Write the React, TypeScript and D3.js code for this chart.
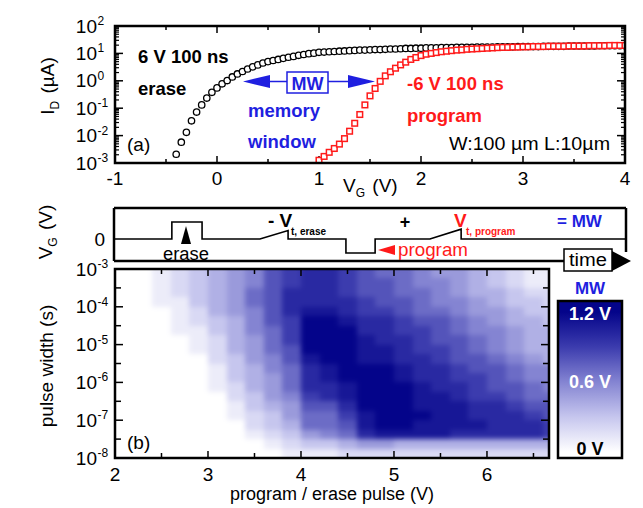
import React from 'react';
import * as d3 from 'd3';

const FONT = "'Liberation Sans', Arial, Helvetica, sans-serif";
const BLUE = '#1f1fe0';
const RED = '#ff1a1a';

// ---------- Panel (a): transfer curves ----------
const VG_STEP = 0.05;
const VG_START_ERASE = -0.4;
const LOG_ID_ERASE = [
  -2.68, -2.24, -1.88, -1.46, -1.14, -0.88, -0.63, -0.42, -0.26, -0.11,
  0.01, 0.14, 0.25, 0.34, 0.43, 0.51, 0.58, 0.65, 0.70, 0.74,
  0.78, 0.82, 0.86, 0.89, 0.93, 0.96, 0.99, 1.01, 1.04, 1.05,
  1.06, 1.07, 1.08, 1.09, 1.10, 1.11, 1.12, 1.12, 1.13, 1.14,
  1.14, 1.15, 1.16, 1.16, 1.17, 1.18, 1.18, 1.19, 1.19,
  1.20, 1.20, 1.20, 1.21, 1.21, 1.21, 1.22, 1.22, 1.22, 1.22,
  1.23, 1.23, 1.23, 1.23, 1.24, 1.24, 1.24, 1.24, 1.25, 1.25,
  1.25, 1.25, 1.25, 1.26, 1.26, 1.26, 1.26, 1.26, 1.27, 1.27,
  1.27, 1.27, 1.27, 1.27, 1.28, 1.28, 1.28, 1.28, 1.28, 1.28,
];
const VG_START_PROGRAM = 1.0;
const LOG_ID_PROGRAM = [
  -2.90, -2.76, -2.61, -2.47, -2.31, -2.11, -1.84, -1.55, -1.23, -0.88,
  -0.55, -0.28, -0.02, 0.18, 0.33, 0.46, 0.58, 0.68, 0.78, 0.85,
  0.92, 0.97, 1.00, 1.03, 1.06, 1.08, 1.10, 1.12, 1.13, 1.15,
  1.16, 1.17, 1.18, 1.19, 1.20, 1.21, 1.22, 1.22, 1.23, 1.23,
  1.24, 1.24, 1.25, 1.25, 1.25, 1.26, 1.26, 1.26, 1.26, 1.27,
  1.27, 1.27, 1.27, 1.28, 1.28, 1.28, 1.28, 1.29, 1.29, 1.29, 1.29,
];
const A_XTICKS = [-1, 0, 1, 2, 3, 4];
const A_XMINOR = [-0.5, 0.5, 1.5, 2.5, 3.5];
const A_YEXP = [2, 1, 0, -1, -2, -3];

// ---------- Schematic (gate voltage vs time) ----------
const WAVE_T = [0, 11.3, 11.3, 17.2, 17.2, 28.5, 34, 34, 45.3, 45.3, 51, 51, 61.7, 67.8, 67.8, 100];
const WAVE_LEVEL = [0, 0, 1, 1, 0, 0, 0.5, 0, 0, -0.82, -0.82, 0, 0, 0.58, 0, 0];

// ---------- Panel (b): memory window map ----------
const PULSE_V = [2.1, 2.3, 2.5, 2.7, 2.9, 3.1, 3.3, 3.5, 3.7, 3.9, 4.1, 4.3, 4.5, 4.7, 4.9, 5.1, 5.3, 5.5, 5.7, 5.9, 6.1, 6.3, 6.5, 6.7];
const LOG_PULSE_WIDTH = [-3.125, -3.375, -3.625, -3.875, -4.125, -4.375, -4.625, -4.875, -5.125, -5.375,
  -5.625, -5.875, -6.125, -6.375, -6.625, -6.875, -7.125, -7.375, -7.625, -7.875];
// memory window in units of 0.1 V (rows: top -> bottom, columns: PULSE_V)
const MW_DECIVOLT = [
  [0, 0, 1, 2, 3, 4, 5, 6, 8, 9, 10, 10, 9, 8, 7, 7, 6, 5, 5, 4, 3, 2, 1, 1],
  [0, 0, 1, 2, 3, 4, 5, 6, 8, 9, 10, 10, 9, 8, 8, 7, 6, 6, 5, 4, 3, 2, 1, 1],
  [0, 0, 1, 2, 3, 4, 5, 7, 8, 10, 10, 10, 9, 8, 8, 7, 7, 6, 5, 4, 4, 3, 2, 2],
  [0, 0, 1, 1, 3, 4, 5, 7, 8, 10, 10, 10, 10, 9, 8, 8, 7, 6, 6, 5, 4, 3, 3, 2],
  [0, 0, 0, 1, 2, 4, 5, 6, 8, 10, 11, 11, 10, 9, 9, 8, 7, 7, 6, 5, 5, 4, 3, 3],
  [0, 0, 0, 1, 2, 3, 4, 6, 8, 9, 12, 12, 11, 10, 10, 9, 8, 8, 7, 6, 5, 4, 4, 3],
  [0, 0, 0, 1, 1, 3, 4, 6, 7, 9, 12, 12, 12, 10, 10, 9, 9, 8, 7, 6, 6, 5, 4, 4],
  [0, 0, 0, 0, 1, 2, 4, 5, 7, 9, 12, 12, 12, 11, 10, 10, 9, 8, 8, 7, 6, 5, 4, 4],
  [0, 0, 0, 0, 1, 2, 4, 5, 7, 8, 12, 12, 12, 11, 11, 10, 9, 9, 8, 7, 6, 5, 4, 4],
  [0, 0, 0, 0, 0, 2, 3, 5, 6, 8, 11, 12, 12, 11, 11, 10, 10, 9, 8, 8, 7, 6, 5, 4],
  [0, 0, 0, 0, 0, 1, 3, 4, 6, 7, 10, 11, 12, 12, 12, 11, 10, 10, 9, 8, 8, 7, 6, 6],
  [0, 0, 0, 0, 0, 1, 3, 4, 5, 7, 10, 11, 12, 12, 12, 11, 10, 10, 9, 9, 8, 7, 6, 6],
  [0, 0, 0, 0, 0, 1, 2, 4, 5, 7, 10, 10, 11, 12, 12, 12, 11, 10, 10, 9, 8, 8, 7, 6],
  [0, 0, 0, 0, 0, 0, 2, 3, 5, 6, 9, 10, 11, 12, 12, 12, 11, 11, 10, 9, 9, 8, 7, 7],
  [0, 0, 0, 0, 0, 0, 1, 3, 4, 5, 8, 8, 10, 12, 12, 12, 11, 11, 11, 10, 10, 9, 8, 8],
  [0, 0, 0, 0, 0, 0, 1, 2, 3, 5, 7, 7, 9, 11, 12, 12, 12, 11, 11, 10, 10, 10, 9, 8],
  [0, 0, 0, 0, 0, 0, 0, 2, 3, 4, 7, 7, 8, 11, 12, 12, 11, 11, 11, 11, 10, 10, 10, 9],
  [0, 0, 0, 0, 0, 0, 0, 1, 2, 3, 5, 6, 7, 10, 11, 11, 11, 11, 10, 10, 10, 10, 10, 9],
  [0, 0, 0, 0, 0, 0, 0, 0, 1, 2, 3, 3, 4, 5, 5, 4, 4, 4, 4, 4, 4, 4, 4, 4],
  [0, 0, 0, 0, 0, 0, 0, 0, 0, 1, 1, 1, 2, 2, 2, 2, 2, 2, 2, 2, 2, 2, 2, 2],
];
const B_XTICKS = [2, 3, 4, 5, 6];
const B_XMINOR = [2.5, 3.5, 4.5, 5.5, 6.5];
const B_YEXP = [-3, -4, -5, -6, -7, -8];
const CBAR_LABELS = [
  { v: 1.2, text: '1.2 V', color: '#ffffff' },
  { v: 0.6, text: '0.6 V', color: '#ffffff' },
  { v: 0.0, text: '0 V', color: '#000000' },
];
const MW_COLOR_DOMAIN = [0, 0.3, 0.6, 0.9, 1.2];
const MW_COLOR_RANGE = ['#ffffff', '#c6c6ee', '#8484d2', '#3c3cae', '#04048a'];

const FRAME_W = 2.5;

function YLogLabel({ x, y, exp }: { x: number; y: number; exp: number }) {
  return (
    <g fontFamily={FONT}>
      <text x={x} y={y + 6.5} fontSize={19} textAnchor="end">10</text>
      <text x={x + 0.5} y={y - 1} fontSize={12}>{String(exp)}</text>
    </g>
  );
}

export default function App() {
  // ---- panel (a) scales ----
  const xA = d3.scaleLinear().domain([-1, 4]).range([115, 625]);
  const yA = d3.scaleLog().domain([1e-3, 1e2]).range([163, 26]);
  const eraseData = LOG_ID_ERASE.map((l, i) => ({ v: VG_START_ERASE + i * VG_STEP, i: Math.pow(10, l) }));
  const progData = LOG_ID_PROGRAM.map((l, i) => ({ v: VG_START_PROGRAM + i * VG_STEP, i: Math.pow(10, l) }));
  const aMinorY: number[] = [];
  for (let d = -3; d < 2; d++) for (let m = 2; m <= 9; m++) aMinorY.push(m * Math.pow(10, d));

  // ---- schematic scales ----
  const tS = d3.scaleLinear().domain([0, 100]).range([114, 626]);
  const lS = d3.scaleLinear().domain([0, 1]).range([239, 222]);
  const wave = d3.line<number>().x((_, i) => tS(WAVE_T[i])).y((d) => lS(d))(WAVE_LEVEL) || '';

  // ---- panel (b) scales ----
  const xB = d3.scaleLinear().domain([2, 6.667]).range([115, 549]);
  const yB = d3.scaleLog().domain([1e-8, 1e-3]).range([458, 269]);
  const color = d3.scaleLinear<string>().domain(MW_COLOR_DOMAIN).range(MW_COLOR_RANGE).clamp(true);
  const halfX = (PULSE_V[1] - PULSE_V[0]) / 2;
  const halfY = (LOG_PULSE_WIDTH[0] - LOG_PULSE_WIDTH[1]) / 2;
  const bMinorY: number[] = [];
  for (let d = -8; d < -3; d++) bMinorY.push(Math.pow(10, d + 0.5));

  // colorbar
  const cb = { x0: 558, x1: 622, y0: 301, y1: 458 };
  const cbScale = d3.scaleLinear().domain([0, 1.2]).range([452, 312]);
  const cbStops = d3.range(0, 13).map((k) => k / 10);

  const tickStroke = 1.5;

  return (
    <svg width={643} height={508} style={{ position: 'absolute', left: 0, top: 0, background: '#fff' }} fontFamily={FONT}>
      <defs>
        <clipPath id="clipA"><rect x={115} y={26} width={510} height={137} /></clipPath>
        <clipPath id="clipB"><rect x={115} y={269} width={434} height={189} /></clipPath>
        <filter id="soft" x="0" y="0" width="1" height="1" colorInterpolationFilters="sRGB">
          <feGaussianBlur stdDeviation={2.6} />
          <feComponentTransfer>
            <feFuncA type="table" tableValues="1 1" />
          </feComponentTransfer>
        </filter>
        <filter id="softBar" x="0" y="0" width="1" height="1" colorInterpolationFilters="sRGB">
          <feGaussianBlur stdDeviation={1.5} />
        </filter>
        <linearGradient id="cbGrad" x1="0" y1={cb.y1} x2="0" y2={cb.y0} gradientUnits="userSpaceOnUse">
          <stop offset={0} stopColor="#ffffff" />
          {cbStops.map((v) => (
            <stop key={v} offset={(cb.y1 - cbScale(v)) / (cb.y1 - cb.y0)} stopColor={color(v)} />
          ))}
          <stop offset={1} stopColor={color(1.2)} />
        </linearGradient>
      </defs>
      <rect x={0} y={0} width={643} height={508} fill="#fff" />

      {/* ================= Panel (a) ================= */}
      <g>
        {A_XTICKS.map((t) => (
          <g key={'ax' + t} stroke="#000" strokeWidth={tickStroke}>
            <line x1={xA(t)} x2={xA(t)} y1={163} y2={156} />
            <line x1={xA(t)} x2={xA(t)} y1={26} y2={33} />
          </g>
        ))}
        {A_XMINOR.map((t) => (
          <g key={'axm' + t} stroke="#000" strokeWidth={tickStroke}>
            <line x1={xA(t)} x2={xA(t)} y1={163} y2={159} />
            <line x1={xA(t)} x2={xA(t)} y1={26} y2={30} />
          </g>
        ))}
        {A_YEXP.map((e) => (
          <g key={'ay' + e} stroke="#000" strokeWidth={tickStroke}>
            <line x1={115} x2={123} y1={yA(Math.pow(10, e))} y2={yA(Math.pow(10, e))} />
            <line x1={625} x2={617} y1={yA(Math.pow(10, e))} y2={yA(Math.pow(10, e))} />
          </g>
        ))}
        {aMinorY.map((v, k) => (
          <g key={'aym' + k} stroke="#000" strokeWidth={1.2}>
            <line x1={115} x2={119} y1={yA(v)} y2={yA(v)} />
            <line x1={625} x2={621} y1={yA(v)} y2={yA(v)} />
          </g>
        ))}
        <g clipPath="url(#clipA)">
          {eraseData.map((d, k) => (
            <circle key={'e' + k} cx={xA(d.v)} cy={yA(d.i)} r={3.2} fill="#fff" stroke="#000" strokeWidth={1.3} />
          ))}
          {progData.map((d, k) => (
            <rect key={'p' + k} x={xA(d.v) - 2.8} y={yA(d.i) - 2.8} width={5.6} height={5.6} fill="#fff" stroke={RED} strokeWidth={1.5} />
          ))}
        </g>
        <rect x={115} y={26} width={510} height={137} fill="none" stroke="#000" strokeWidth={FRAME_W} />

        {A_XTICKS.map((t) => (
          <text key={'axl' + t} x={xA(t)} y={185} fontSize={19} textAnchor="middle">{String(t)}</text>
        ))}
        {A_YEXP.map((e) => (
          <YLogLabel key={'ayl' + e} x={97} y={yA(Math.pow(10, e))} exp={e} />
        ))}
        <text x={343} y={192} fontSize={19}>
          V<tspan dy={5} fontSize={12}>G</tspan><tspan dy={-5} dx={2}> (V)</tspan>
        </text>
        <text transform="translate(54,86) rotate(-90)" fontSize={19} textAnchor="middle">
          I<tspan dy={5} fontSize={12}>D</tspan><tspan dy={-5} dx={2}> (µA)</tspan>
        </text>

        <g fontWeight="bold" fontSize={18.5}>
          <text x={138} y={63} fill="#000">6 V 100 ns</text>
          <text x={138} y={95} fill="#000">erase</text>
          <text x={248} y={117} fill={BLUE}>memory</text>
          <text x={248} y={148} fill={BLUE}>window</text>
          <text x={407} y={90} fill={RED}>-6 V 100 ns</text>
          <text x={407} y={122} fill={RED}>program</text>
        </g>
        <text x={449} y={150} fontSize={18.5} textLength={161} lengthAdjust="spacingAndGlyphs">W:100 µm L:10µm</text>
        <text x={127} y={151} fontSize={19}>(a)</text>
        <g stroke={BLUE} strokeWidth={1.5} fill="none">
          <line x1={268} x2={287} y1={81.5} y2={81.5} />
          <line x1={328} x2={349} y1={81.5} y2={81.5} />
          <rect x={287} y={72} width={41} height={21} fill="#fff" />
        </g>
        <path d="M243,81.5 L270,75 L270,88 Z" fill={BLUE} />
        <path d="M375,81.5 L348,75 L348,88 Z" fill={BLUE} />
        <text x={307.5} y={89.5} fontSize={18} fontWeight="bold" fill={BLUE} textAnchor="middle">MW</text>
      </g>

      {/* ================= Schematic ================= */}
      <g>
        <path d={wave} fill="none" stroke="#000" strokeWidth={1.6} />
        <line x1={114} x2={626} y1={208} y2={208} stroke="#000" strokeWidth={FRAME_W} />
        <line x1={114} x2={114} y1={208} y2={261} stroke="#000" strokeWidth={FRAME_W} />
        <line x1={626} x2={626} y1={208} y2={252} stroke="#000" strokeWidth={FRAME_W} />
        <line x1={114} x2={614} y1={261} y2={261} stroke="#000" strokeWidth={FRAME_W} />
        <text x={105} y={245.5} fontSize={19} textAnchor="end">0</text>
        <text transform="translate(52,232) rotate(-90)" fontSize={19} textAnchor="middle">
          V<tspan dy={5} fontSize={12}>G</tspan><tspan dy={-5} dx={2}> (V)</tspan>
        </text>
        <path d="M186,226 L181,244 L191,244 Z" fill="#000" />
        <text x={186} y={260} fontSize={18} textAnchor="middle" textLength={46} lengthAdjust="spacingAndGlyphs">erase</text>
        <text x={268} y={227} fontSize={19} fontWeight="bold">- V</text>
        <text x={291} y={235} fontSize={10} fontWeight="bold">t, erase</text>
        <text x={405} y={228} fontSize={18} fontWeight="bold" textAnchor="middle">+</text>
        <text x={454} y={227} fontSize={19} fontWeight="bold" fill={RED}>V</text>
        <text x={466} y={235} fontSize={10} fontWeight="bold" fill={RED}>t, program</text>
        <text x={557} y={227} fontSize={17} fontWeight="bold" fill={BLUE}>= MW</text>
        <path d="M378,250 L395,245 L395,255 Z" fill={RED} />
        <text x={398} y={256} fontSize={19} fill={RED} textLength={70} lengthAdjust="spacingAndGlyphs">program</text>
        <rect x={564} y={249} width={48} height={22} fill="#fff" stroke="#000" strokeWidth={1.5} />
        <text x={588} y={266} fontSize={18} textAnchor="middle" textLength={38} lengthAdjust="spacingAndGlyphs">time</text>
        <path d="M612,251 L612,271 L631,261 Z" fill="#000" />
      </g>

      {/* ================= Panel (b) ================= */}
      <g>
        <g clipPath="url(#clipB)">
          <g filter="url(#soft)">
            {MW_DECIVOLT.map((row, i) =>
              row.map((dv, j) => {
                const x0 = xB(PULSE_V[j] - halfX);
                const x1 = xB(PULSE_V[j] + halfX);
                const y0 = yB(Math.pow(10, LOG_PULSE_WIDTH[i] + halfY));
                const y1 = yB(Math.pow(10, LOG_PULSE_WIDTH[i] - halfY));
                return (
                  <rect key={i + '-' + j} x={x0} y={y0} width={x1 - x0 + 0.6} height={y1 - y0 + 0.6}
                    fill={color(dv / 10)} shapeRendering="crispEdges" />
                );
              })
            )}
          </g>
        </g>
        {B_XTICKS.map((t) => (
          <g key={'bx' + t} stroke="#000" strokeWidth={tickStroke}>
            <line x1={xB(t)} x2={xB(t)} y1={458} y2={451} />
            <line x1={xB(t)} x2={xB(t)} y1={269} y2={276} />
          </g>
        ))}
        {B_XMINOR.map((t) => (
          <g key={'bxm' + t} stroke="#000" strokeWidth={tickStroke}>
            <line x1={xB(t)} x2={xB(t)} y1={458} y2={453} />
            <line x1={xB(t)} x2={xB(t)} y1={269} y2={274} />
          </g>
        ))}
        {B_YEXP.map((e) => (
          <g key={'by' + e} stroke="#000" strokeWidth={tickStroke}>
            <line x1={115} x2={123} y1={yB(Math.pow(10, e))} y2={yB(Math.pow(10, e))} />
            <line x1={549} x2={541} y1={yB(Math.pow(10, e))} y2={yB(Math.pow(10, e))} />
          </g>
        ))}
        {bMinorY.map((v, k) => (
          <g key={'bym' + k} stroke="#000" strokeWidth={tickStroke}>
            <line x1={115} x2={121} y1={yB(v)} y2={yB(v)} />
            <line x1={549} x2={543} y1={yB(v)} y2={yB(v)} />
          </g>
        ))}
        <rect x={115} y={269} width={434} height={189} fill="none" stroke="#000" strokeWidth={FRAME_W} />
        {B_XTICKS.map((t) => (
          <text key={'bxl' + t} x={xB(t)} y={481} fontSize={19} textAnchor="middle">{String(t)}</text>
        ))}
        {B_YEXP.map((e) => (
          <YLogLabel key={'byl' + e} x={97} y={yB(Math.pow(10, e))} exp={e} />
        ))}
        <text x={332} y={500} fontSize={18} textAnchor="middle">program / erase pulse (V)</text>
        <text transform="translate(53,366) rotate(-90)" fontSize={19} textAnchor="middle">pulse width (s)</text>
        <text x={127} y={449} fontSize={19}>(b)</text>

        <rect x={cb.x0} y={cb.y0} width={cb.x1 - cb.x0} height={cb.y1 - cb.y0} fill="url(#cbGrad)" stroke="#000" strokeWidth={FRAME_W} />
        <text x={590} y={294} fontSize={17} fontWeight="bold" fill={BLUE} textAnchor="middle">MW</text>
        {CBAR_LABELS.map((l) => (
          <text key={l.text} x={590} y={cbScale(l.v) + (l.v === 1.2 ? 8 : l.v === 0 ? 3 : 6)} fontSize={18} fontWeight="bold"
            fill={l.color} textAnchor="middle">{l.text}</text>
        ))}
      </g>
    </svg>
  );
}
